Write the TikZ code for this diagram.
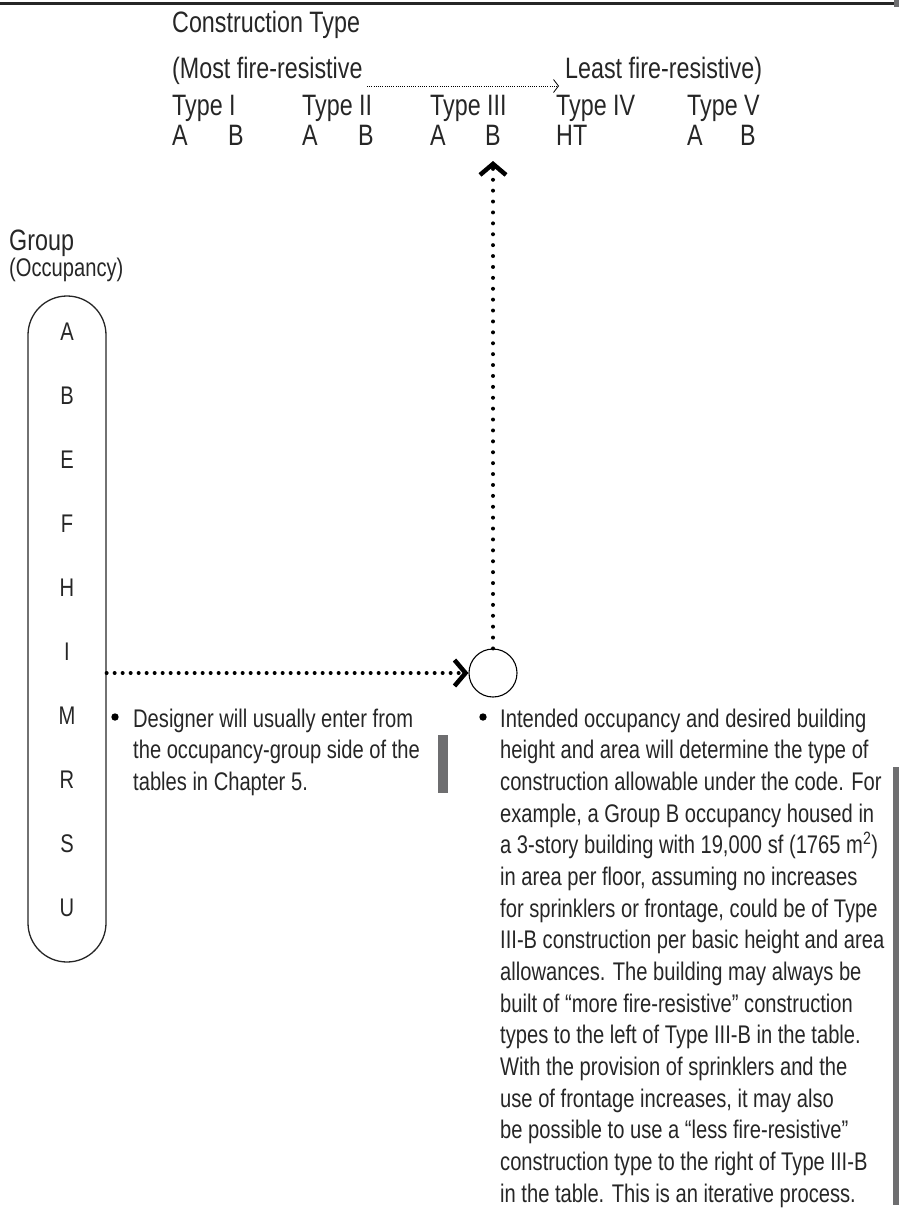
\documentclass[tikz,border=0pt]{standalone}
\usepackage{fontspec}
\setmainfont{Liberation Sans}[FakeStretch=0.79]
\usetikzlibrary{arrows.meta}
\definecolor{ink}{HTML}{262626}
\definecolor{barc}{HTML}{6E6E70}
\begin{document}
\begin{tikzpicture}[x=1pt,y=-1pt,
  body/.style={anchor=base west, inner sep=0pt, font=\fontsize{25.5}{31.7}\selectfont, text=ink},
  head/.style={anchor=base west, inner sep=0pt, font=\fontsize{29.5}{34}\selectfont, text=ink},
  letter/.style={anchor=base, inner sep=0pt, font=\fontsize{25.5}{30}\selectfont, text=ink},
  dotline/.style={line width=4pt, line cap=round, black},
  bigtip/.style={-{Straight Barb[length=11pt,width=26pt,line width=4.5pt]}},
  capsule/.style={draw=ink, line width=1.3pt, rounded corners=39pt, minimum width=78pt, minimum height=666pt, inner sep=0pt},
  hubstyle/.style={circle, draw=black, line width=1.1pt, minimum size=48pt, inner sep=0pt}
]
\useasboundingbox (0,0) rectangle (899,1210);
% frame line
\draw[ink, line width=2.2pt] (0,3.5) -- (895,3.5);
\fill[barc] (894,0) rectangle (899,7);

% header
\node[head] (ctype) at (172,32) {Construction Type};
\node[head] (most) at (172,78) {(Most fire-resistive};
\node[head] (least) at (565,78) {Least fire-resistive)};
\coordinate (ta) at (367,86);
\coordinate (tb) at (559,86);
\draw[black, line width=0.7pt, dash pattern=on 0.7pt off 1.5pt, -{Straight Barb[length=5pt,width=13pt,line width=0.8pt]}] (ta) -- (tb);

\node[head] (t1) at (172,115) {Type I};
\node[head] (t2) at (302,115) {Type II};
\node[head] (t3) at (430,115) {Type III};
\node[head] (t4) at (556,115) {Type IV};
\node[head] (t5) at (687,115) {Type V};

\node[head] (t1a) at (172,145) {A};
\node[head] (t1b) at (228,145) {B};
\node[head] (t2a) at (302,145) {A};
\node[head] (t2b) at (358,145) {B};
\node[head] (t3a) at (430,145) {A};
\node[head] (t3b) at (485,145) {B};
\node[head] (t4h) at (556,145) {HT};
\node[head] (t5a) at (687,145) {A};
\node[head] (t5b) at (740,145) {B};

% group
\node[head] (grp) at (9,250) {Group};
\node[body] (occ) at (9,276) {(Occupancy)};
\node[capsule] (cap) at (67,629) {};
\foreach \L [count=\k from 0] in {A,B,E,F,H,I,M,R,S,U}
  \node[letter] (g\L) at (67,340+64*\k) {\L};

% hub and connectors
\node[hubstyle] (hub) at (493,673) {};
\coordinate (tipB) at (493,161);
\draw[dotline, dash pattern=on 0pt off 8pt, bigtip] (cap.east |- hub.west) -- (hub.west);
\draw[dotline, dash pattern=on 0pt off 10.9pt, bigtip] (hub.north) -- (tipB);

% left note
\fill[black] (115,717) circle (3.7pt);
\foreach \t [count=\i from 0] in {{Designer will usually enter from},{the occupancy-group side of the},{tables in Chapter 5.}}
  \node[body] (l\i) at (133,727+31.67*\i) {\t};
\fill[barc] (438,735) rectangle (448,793);

% right note
\fill[black] (483,717) circle (3.7pt);
\foreach \t [count=\i from 0] in {
 {Intended occupancy and desired building},
 {height and area will determine the type of},
 {construction allowable under the code. For},
 {example, a Group B occupancy housed in},
 {a 3-story building with 19,000 sf (1765 m\textsuperscript{2})},
 {in area per floor, assuming no increases},
 {for sprinklers or frontage, could be of Type},
 {III-B construction per basic height and area},
 {allowances. The building may always be},
 {built of “more fire-resistive” construction},
 {types to the left of Type III-B in the table.},
 {With the provision of sprinklers and the},
 {use of frontage increases, it may also},
 {be possible to use a “less fire-resistive”},
 {construction type to the right of Type III-B},
 {in the table. This is an iterative process.}}
  \node[body] (r\i) at (500,727+31.67*\i) {\t};
\fill[barc] (893,767) rectangle (899,1205);
\end{tikzpicture}
\end{document}
